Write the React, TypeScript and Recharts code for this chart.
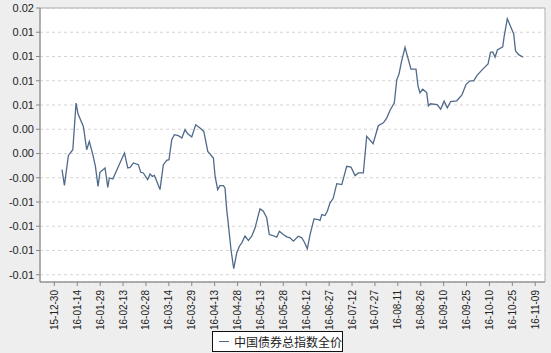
import React from 'react';
import { LineChart, Line, XAxis, YAxis, CartesianGrid, ReferenceArea, Legend } from 'recharts';

// days since 2015-12-30
const days = [
  5.0, 6.6, 9.2, 12.1, 14.2, 15.5, 19.0, 21.2, 22.9, 25.2, 26.9, 28.6, 29.9, 33.2, 35.0, 36.0, 38.3,
  45.9, 48.1, 49.6, 51.8, 55.0, 56.6, 58.3, 61.1, 62.7, 64.2, 65.5, 67.1, 69.2, 71.4, 73.6, 75.1,
  76.9, 78.6, 81.2, 83.5, 85.6, 87.4, 90.0, 92.6, 95.4, 97.9, 100.5, 104.2, 105.3, 107.0, 108.5,
  110.7, 111.8, 112.9, 114.0, 115.7, 117.5, 119.5, 121.2, 122.8, 124.9, 127.1, 129.3, 131.5, 133.0,
  134.7, 136.9, 139.1, 140.8, 143.1, 145.7, 147.4, 150.0, 152.2, 154.4, 156.6, 159.8, 162.1, 163.8,
  165.7, 167.5, 170.1, 172.9, 174.0, 175.2, 177.3, 178.8, 180.6, 182.6, 185.0, 188.3, 191.5, 194.3,
  197.0, 199.1, 202.4, 204.6, 208.8, 212.2, 215.5, 217.7, 219.9, 222.7, 224.3, 225.8, 227.4, 229.7,
  233.6, 236.9, 238.2, 239.5, 241.3, 243.9, 245.0, 246.4, 250.7, 253.1, 255.3, 257.4, 259.6, 263.6,
  267.0, 269.7, 272.3, 274.7, 276.9, 280.8, 284.1, 285.7, 287.2, 288.7, 290.2, 293.7, 294.6, 296.7,
  300.9, 302.1, 304.4, 307.2,
];

const values = [
  -0.0020, -0.00394, -0.00024, 0.00047, 0.00623, 0.00491, 0.00335, 0.00047, 0.00149, -0.00015,
  -0.00159, -0.00406, -0.00233, -0.00179, -0.00419, -0.00303, -0.00315,
  0.00006, -0.00179, -0.00172, -0.00117, -0.00138, -0.00233, -0.00241, -0.00324, -0.00253,
  -0.00283, -0.0027, -0.00344, -0.00447, -0.00138, -0.00085, -0.00077,
  0.0017, 0.00232, 0.0022, 0.00191, 0.00294, 0.00244, 0.00204, 0.00356, 0.00315, 0.00273,
  0.00026, -0.00056, -0.00283, -0.00447, -0.00398,
  -0.00398, -0.00426, -0.00694, -0.00879, -0.01188, -0.01426, -0.01228, -0.01147, -0.01105,
  -0.01021, -0.01077, -0.01024, -0.0092, -0.00809,
  -0.00685, -0.00715, -0.00796, -0.01003, -0.01015, -0.01036, -0.00962, -0.01003, -0.01031,
  -0.01043, -0.01085, -0.01024, -0.01043, -0.01098,
  -0.01179, -0.01003, -0.00809, -0.00817, -0.0083, -0.00756, -0.00768, -0.00715, -0.00611,
  -0.00558, -0.00373, -0.00385, -0.00159, -0.00167,
  -0.00274, -0.00241, -0.00241, 0.00211, 0.00121, 0.00343, 0.0038, 0.00438, 0.00535, 0.00627,
  0.00911, 0.00985, 0.01137, 0.01312,
  0.01043, 0.01043, 0.00837, 0.00751, 0.00796, 0.00754, 0.0059, 0.00615, 0.00606, 0.00549,
  0.00648, 0.00565, 0.00643, 0.00652,
  0.00726, 0.00856, 0.00899, 0.00899, 0.00967, 0.01047, 0.01109, 0.01251, 0.01257, 0.01191,
  0.01281, 0.01319, 0.01442, 0.01668,
  0.01479, 0.01269, 0.0122, 0.01191,
];

const yTicks = [0.018, 0.015, 0.012, 0.009, 0.006, 0.003, 0, -0.003, -0.006, -0.009, -0.012, -0.015];

const xTickLabels = [
  '15-12-30', '16-01-14', '16-01-29', '16-02-13', '16-02-28', '16-03-14', '16-03-29', '16-04-13',
  '16-04-28', '16-05-13', '16-05-28', '16-06-12', '16-06-27', '16-07-12', '16-07-27', '16-08-11',
  '16-08-26', '16-09-10', '16-09-25', '16-10-10', '16-10-25', '16-11-09',
];

const seriesName = '中国债券总指数全价';

const X_MIN = -9.4;
const X_MAX = 321.4;
const Y_MIN = -0.0159;
const Y_MAX = 0.018;

const BASE = Date.UTC(2015, 11, 30);
const labelToDay = (s: string) => {
  const [yy, mm, dd] = s.split('-').map(Number);
  return Math.round((Date.UTC(2000 + yy, mm - 1, dd) - BASE) / 86400000);
};
const xTicks = xTickLabels.map(labelToDay);
const dayToLabel: Record<number, string> = {};
xTickLabels.forEach((l, i) => { dayToLabel[xTicks[i]] = l; });

const data = days.map((d, i) => ({ day: d, value: values[i] }));

const XTick = ({ x, y, payload }: any) => (
  <text
    x={0}
    y={0}
    transform={`translate(${x + 3.5},${y + 2}) rotate(-90)`}
    textAnchor="end"
    fontSize={10}
    fill="#222"
    fontFamily="'Liberation Sans', Arial, sans-serif"
  >
    {dayToLabel[payload.value]}
  </text>
);

const LegendBox = () => (
  <div
    style={{
      display: 'flex',
      alignItems: 'center',
      width: 131,
      height: 21,
      boxSizing: 'border-box',
      padding: '0 0 0 6px',
      border: '1px solid #111',
      background: '#fff',
      fontFamily: "'Noto Sans CJK SC', serif",
      fontSize: 12,
      color: '#222',
      whiteSpace: 'nowrap',
    }}
  >
    <span style={{ display: 'inline-block', width: 11, height: 1, background: '#4f6a8a', marginRight: 5 }} />
    {seriesName}
  </div>
);

export default function App() {
  return (
    <div style={{ position: 'absolute', left: 0, top: 0, width: 551, height: 353, background: '#eeeeee' }}>
      <LineChart width={551} height={353} data={data} margin={{ top: 8, right: 6, left: 0, bottom: 1 }}>
        <CartesianGrid vertical={false} strokeDasharray="3 3" stroke="#d4d4d4" fill="#ffffff" />
        <ReferenceArea x1={X_MIN} x2={X_MAX} y1={Y_MIN} y2={Y_MAX} fill="none" stroke="#b0b0b0" ifOverflow="visible" />
        <XAxis
          type="number"
          dataKey="day"
          domain={[X_MIN, X_MAX]}
          ticks={xTicks}
          allowDataOverflow
          interval={0}
          height={49}
          tickSize={4}
          tick={<XTick />}
          stroke="#888"
        />
        <YAxis
          type="number"
          domain={[Y_MIN, Y_MAX]}
          ticks={yTicks}
          allowDataOverflow
          interval={0}
          width={40}
          tickSize={4}
          tickFormatter={(v: number) => v.toFixed(2)}
          tick={{ fontSize: 11, fill: '#222', fontFamily: "'Liberation Sans', Arial, sans-serif" }}
          stroke="#888"
        />
        <Line
          type="linear"
          dataKey="value"
          name={seriesName}
          stroke="#4f6a8a"
          strokeWidth={1.3}
          dot={false}
          isAnimationActive={false}
        />
        <Legend
          content={<LegendBox />}
          wrapperStyle={{ position: 'absolute', left: 212, top: 331, width: 131, height: 21, bottom: 'auto' }}
        />
      </LineChart>
    </div>
  );
}
